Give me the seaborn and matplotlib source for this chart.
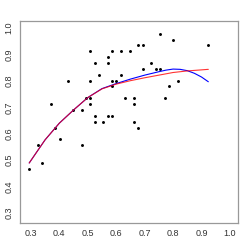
import pandas as pd
import seaborn as sns
from matplotlib import pyplot as plt

# scatter data
x_obs = [0.294, 0.324, 0.339, 0.370, 0.386, 0.401, 0.431, 0.449, 0.478, 0.478,
         0.494, 0.508, 0.508, 0.508, 0.508, 0.524, 0.539, 0.570, 0.570, 0.585,
         0.616, 0.647, 0.677, 0.693, 0.724, 0.693, 0.616, 0.585, 0.600, 0.585,
         0.632, 0.662, 0.662, 0.524, 0.570, 0.585, 0.524, 0.554, 0.662, 0.677,
         0.755, 0.801, 0.924, 0.740, 0.755, 0.816, 0.785, 0.770]
y_obs = [0.468, 0.557, 0.489, 0.712, 0.623, 0.579, 0.801, 0.689, 0.689, 0.557,
         0.734, 0.734, 0.712, 0.912, 0.801, 0.868, 0.823, 0.889, 0.868, 0.912,
         0.912, 0.912, 0.935, 0.935, 0.868, 0.845, 0.823, 0.801, 0.801, 0.779,
         0.734, 0.734, 0.712, 0.667, 0.667, 0.667, 0.645, 0.645, 0.645, 0.623,
         0.978, 0.956, 0.935, 0.845, 0.845, 0.801, 0.779, 0.734]

# fitted curves
x_fit = [0.294, 0.32, 0.35, 0.40, 0.45, 0.50, 0.55, 0.60, 0.65, 0.70, 0.75,
         0.775, 0.80, 0.825, 0.85, 0.875, 0.90, 0.924]
y_blue = [0.489, 0.530, 0.577, 0.640, 0.690, 0.737, 0.771, 0.790, 0.807, 0.822,
          0.835, 0.841, 0.845, 0.844, 0.839, 0.829, 0.815, 0.797]
y_red = [0.489, 0.530, 0.577, 0.640, 0.690, 0.737, 0.770, 0.788, 0.801, 0.812,
         0.822, 0.827, 0.832, 0.835, 0.838, 0.840, 0.842, 0.844]

ticks = [0.3, 0.4, 0.5, 0.6, 0.7, 0.8, 0.9, 1.0]

df = pd.DataFrame({'x': x_obs, 'y': y_obs})
fit = pd.DataFrame({'x': x_fit, 'blue': y_blue, 'red': y_red})

sns.set_style('white')
plt.rcParams['font.family'] = ['Liberation Sans', 'DejaVu Sans']

fig = plt.figure(figsize=(2.49, 2.49), dpi=100)
ax = fig.add_axes([0.0803, 0.1044, 0.8755, 0.8125])

sns.scatterplot(data=df, x='x', y='y', color='black', s=4.5, linewidth=0, ax=ax)
sns.lineplot(data=fit, x='x', y='blue', color='#0000ff', linewidth=0.8, ax=ax)
sns.lineplot(data=fit, x='x', y='red', color='#ff0000', alpha=0.8, linewidth=0.8, ax=ax)

ax.set_xlim(0.2616, 1.0284)
ax.set_ylim(0.2616, 1.0284)
ax.set_xticks(ticks)
ax.set_yticks(ticks)
ax.set_xticklabels([f'{t:.1f}' for t in ticks])
ax.set_yticklabels([f'{t:.1f}' for t in ticks], rotation=90, va='center')
ax.set_xlabel('')
ax.set_ylabel('')
for s in ax.spines.values():
    s.set_color('#999999')
    s.set_linewidth(0.9)
ax.tick_params(axis='both', direction='out', length=3, width=0.8, color='#999999',
               labelsize=6.5, labelcolor='#333333', pad=1.5)

fig.savefig('out.png', dpi=100)
